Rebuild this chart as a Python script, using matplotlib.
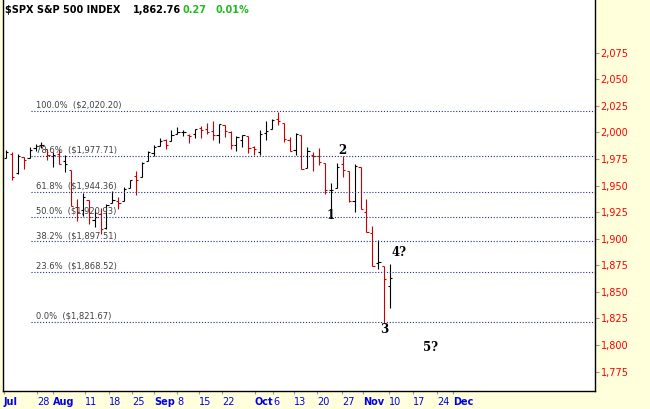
import matplotlib
matplotlib.use("Agg")
import matplotlib.pyplot as plt
from matplotlib.ticker import FuncFormatter

# daily bars, Jul 16 .. Oct 16 2014
dates = [
    "07-16", "07-17", "07-18", "07-21", "07-22", "07-23", "07-24", "07-25",
    "07-28", "07-29", "07-30", "07-31", "08-01", "08-04", "08-05", "08-06",
    "08-07", "08-08", "08-11", "08-12", "08-13", "08-14", "08-15", "08-18",
    "08-19", "08-20", "08-21", "08-22", "08-25", "08-26", "08-27", "08-28",
    "08-29", "09-02", "09-03", "09-04", "09-05", "09-08", "09-09", "09-10",
    "09-11", "09-12", "09-15", "09-16", "09-17", "09-18", "09-19", "09-22",
    "09-23", "09-24", "09-25", "09-26", "09-29", "09-30", "10-01", "10-02",
    "10-03", "10-06", "10-07", "10-08", "10-09", "10-10", "10-13", "10-14",
    "10-15", "10-16",
]
opens = [
    1976.35, 1979.75, 1961.54, 1976.93, 1975.65, 1985.32, 1988.07, 1984.60,
    1978.25, 1980.03, 1973.21, 1965.14, 1929.80, 1926.62, 1936.34, 1917.29,
    1923.03, 1910.35, 1933.43, 1935.73, 1935.60, 1947.41, 1958.87, 1958.36,
    1972.73, 1980.46, 1986.82, 1992.60, 1991.74, 1998.59, 2000.54, 1997.42,
    1998.45, 2004.07, 2003.57, 2001.67, 1998.00, 2007.17, 2000.73, 1988.41,
    1992.85, 1996.74, 1986.04, 1981.93, 1999.30, 2003.07, 2012.74, 2009.08,
    1992.78, 1983.34, 1997.32, 1966.22, 1978.96, 1978.21, 1971.44, 1945.83,
    1948.12, 1970.01, 1964.16, 1935.55, 1967.68, 1925.63, 1905.65, 1877.11,
    1874.18, 1855.95,
]
highs = [
    1983.94, 1981.80, 1979.91, 1976.93, 1986.24, 1989.23, 1991.39, 1984.60,
    1981.52, 1984.85, 1978.90, 1965.14, 1937.35, 1942.92, 1936.34, 1927.91,
    1928.89, 1932.38, 1944.90, 1939.65, 1948.41, 1955.23, 1964.04, 1971.99,
    1982.57, 1988.57, 1994.76, 1993.54, 2001.95, 2005.04, 2002.14, 1998.55,
    2003.38, 2006.12, 2009.28, 2011.17, 2007.71, 2007.17, 2001.01, 1996.66,
    1997.65, 1996.74, 1987.18, 2002.28, 2010.74, 2012.34, 2019.26, 2009.08,
    1995.41, 1999.79, 1997.32, 1986.37, 1981.28, 1985.17, 1971.44, 1952.32,
    1971.19, 1977.84, 1964.16, 1970.36, 1967.68, 1936.98, 1912.09, 1898.71,
    1874.18, 1876.01,
]
lows = [
    1975.67, 1955.59, 1960.82, 1965.77, 1975.65, 1982.44, 1985.79, 1974.37,
    1967.31, 1969.95, 1962.42, 1930.67, 1916.37, 1921.20, 1913.77, 1911.45,
    1904.78, 1909.01, 1933.43, 1928.29, 1935.60, 1947.41, 1941.50, 1958.36,
    1972.73, 1977.68, 1986.82, 1984.76, 1991.74, 1998.59, 1996.20, 1990.52,
    1994.65, 1994.85, 1998.14, 1992.44, 1990.10, 1995.60, 1984.61, 1982.99,
    1985.93, 1980.26, 1978.48, 1979.06, 1993.29, 2003.07, 2006.59, 1991.01,
    1982.77, 1978.63, 1965.99, 1966.22, 1964.04, 1968.96, 1941.72, 1926.03,
    1948.12, 1958.43, 1934.61, 1925.25, 1927.56, 1906.05, 1874.14, 1871.79,
    1820.66, 1835.02,
]
closes = [
    1981.57, 1958.12, 1978.22, 1973.63, 1983.53, 1987.01, 1987.98, 1978.34,
    1978.91, 1969.95, 1970.07, 1930.67, 1925.15, 1938.99, 1920.21, 1920.24,
    1909.57, 1931.59, 1936.92, 1933.75, 1946.72, 1955.18, 1955.06, 1971.74,
    1981.60, 1986.51, 1992.37, 1988.40, 1997.92, 2000.02, 2000.12, 1996.74,
    2003.37, 2002.28, 2000.72, 1997.65, 2007.71, 2001.54, 1988.44, 1995.69,
    1997.45, 1985.54, 1984.13, 1998.98, 2001.57, 2011.36, 2010.40, 1994.29,
    1982.77, 1998.30, 1965.99, 1982.85, 1977.80, 1972.29, 1946.16, 1946.17,
    1967.90, 1964.82, 1935.10, 1968.89, 1928.21, 1906.13, 1874.74, 1877.70,
    1862.49, 1862.76,
]
prev_close = 1973.28

fib_pct = [100.0, 78.6, 61.8, 50.0, 38.2, 23.6, 0.0]
fib_price = [2020.20, 1977.71, 1944.36, 1920.93, 1897.51, 1868.52, 1821.67]

xtick_labels = ["Jul", "28", "Aug", "11", "18", "25", "Sep", "8", "15", "22",
                "Oct", "6", "13", "20", "27", "Nov", "10", "17", "24", "Dec"]
xtick_pos = [-0.34, 5.25, 7.95, 13.37, 17.43, 21.32, 25.04, 28.93, 32.66, 36.55,
             42.13, 45.18, 48.73, 52.62, 56.85, 60.41, 64.81, 68.87, 72.93, 75.63]
months = {"Jul", "Aug", "Sep", "Oct", "Nov", "Dec"}

wave_labels = ["1", "2", "3", "4?", "5?"]
wave_x = [55.0, 56.85, 64.0, 66.5, 71.9]
wave_y = [1922, 1983, 1815, 1887, 1798]

BG = "#FFFFDC"
RED = "#CC0000"
FIB = "#1F3080"

fig = plt.figure(figsize=(6.5, 4.09), dpi=100, facecolor=BG)
ax = fig.add_axes([3 / 650, 18 / 409, 592 / 650, 391 / 409])
ax.set_facecolor("white")

x = list(range(len(dates)))
tick = 0.38
for i in x:
    before = prev_close if i == 0 else closes[i - 1]
    c = RED if closes[i] < before else "black"
    ax.vlines(i, lows[i], highs[i], color=c, lw=0.8)
    ax.hlines(opens[i], i - tick, i, color=c, lw=0.8)
    ax.hlines(closes[i], i, i + tick, color=c, lw=0.8)

xmax = 99.66
for pct, price in zip(fib_pct, fib_price):
    ax.hlines(price, 4.2, xmax, color=FIB, lw=0.8, linestyles=(0, (1, 1.6)))
    ax.text(5.1, price + 1.2, f"{pct:.1f}%  (${price:,.2f})", fontsize=6,
            color="#404040", ha="left", va="bottom")

for lab, wx, wy in zip(wave_labels, wave_x, wave_y):
    ax.text(wx, wy, lab, fontsize=8.5, fontweight="bold", family="DejaVu Serif",
            ha="center", va="center", color="black")

ax.set_xlim(-0.5, xmax)
ax.set_ylim(1756.8, 2124.6)

ax.yaxis.tick_right()
ax.set_yticks(range(1775, 2076, 25))
ax.yaxis.set_major_formatter(FuncFormatter(lambda v, p: f"{v:,.0f}"))
ax.tick_params(axis="y", colors="#999999", labelcolor="#FF0000", length=3,
               width=0.8, pad=1, labelsize=7)

ax.set_xticks(xtick_pos)
ax.set_xticklabels(xtick_labels)
ax.tick_params(axis="x", colors="#999999", labelcolor="#0000EE", length=2,
               width=0.8, pad=2, labelsize=7)
for t in ax.get_xticklabels():
    t.set_ha("left")
    if t.get_text() in months:
        t.set_fontweight("bold")

for side in ["left", "right", "bottom"]:
    ax.spines[side].set_color("black")
    ax.spines[side].set_linewidth(1.0)
ax.spines["top"].set_visible(False)

ty = 1 - 10 / 409
fig.text(5 / 650, ty, "$SPX S&P 500 INDEX", fontsize=7, fontweight="bold",
         color="black", va="center")
fig.text(133 / 650, ty, "1,862.76", fontsize=7, fontweight="bold",
         color="black", va="center")
fig.text(183 / 650, ty, "0.27", fontsize=7, fontweight="bold",
         color="#22BB22", va="center")
fig.text(215 / 650, ty, "0.01%", fontsize=7, fontweight="bold",
         color="#22BB22", va="center")

fig.savefig("out.png", dpi=100, facecolor=BG)
